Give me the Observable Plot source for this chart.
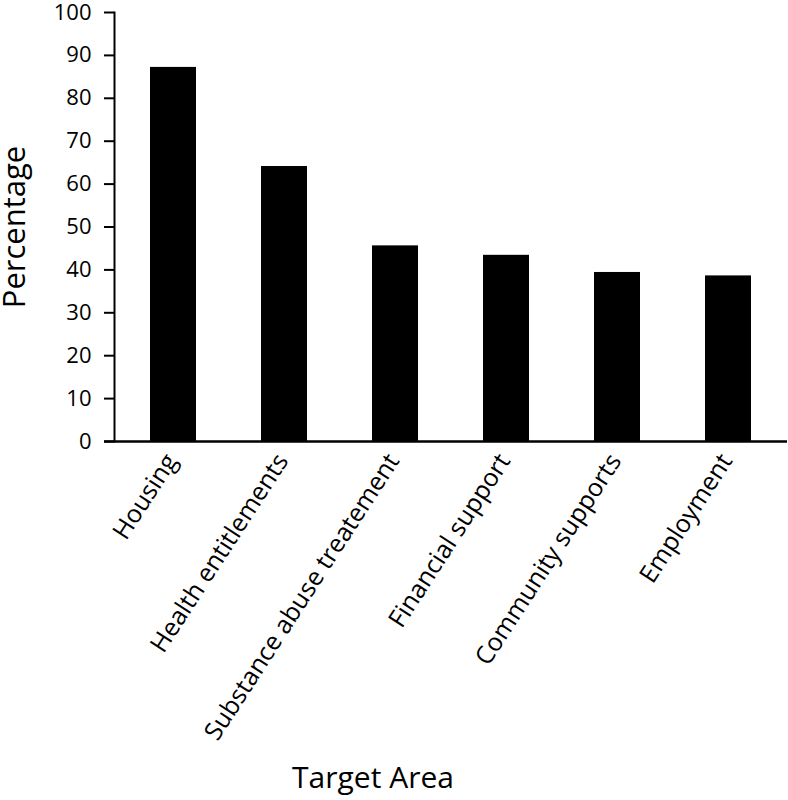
<!DOCTYPE html>
<html>
<head>
<meta charset="utf-8">
<script src="https://cdn.jsdelivr.net/npm/d3@7"></script>
<script src="https://cdn.jsdelivr.net/npm/@observablehq/plot@0.6"></script>
<style>
  html, body { margin: 0; padding: 0; background: white; }
</style>
</head>
<body>
<div id="chart"></div>
<script>
const categories = ["Housing", "Health entitlements", "Substance abuse treatement", "Financial support", "Community supports", "Employment"];
const values = [87.2, 64.1, 45.6, 43.4, 39.4, 38.6];
const yTicks = [0, 10, 20, 30, 40, 50, 60, 70, 80, 90, 100];
const yTitle = ["Percentage"];
const xTitle = ["Target Area"];

const data = categories.map((c, i) => ({cat: c, value: values[i]}));

const chart = Plot.plot({
  width: 788,
  height: 800,
  marginLeft: 114,
  marginRight: 1,
  marginTop: 12,
  marginBottom: 359,
  style: {fontFamily: "'Open Sans', sans-serif", fontSize: "22px", color: "black", background: "white"},
  x: {domain: categories, paddingInner: 0.59, paddingOuter: 0.3, label: null},
  y: {domain: [0, 100], ticks: yTicks, label: null},
  marks: [
    Plot.barY(data, {x: "cat", y: "value", fill: "black"}),
    Plot.axisY({ticks: yTicks, tickSize: 10, tickPadding: 13, strokeWidth: 2, fontSize: 22, label: null}),
    Plot.axisX({tickSize: 0, tickRotate: -57, tickPadding: 15, dx: -2, fontSize: 25, label: null}),
    Plot.ruleY([0], {strokeWidth: 2.5, insetLeft: -10}),
    Plot.frame({anchor: "left", strokeWidth: 2}),
    Plot.text(yTitle, {frameAnchor: "left", dx: -99, rotate: -90, fontSize: 31, textAnchor: "middle", lineAnchor: "middle"}),
    Plot.text(xTitle, {frameAnchor: "bottom", dx: -78, dy: 337, fontSize: 30, textAnchor: "middle", lineAnchor: "middle"})
  ]
});
document.getElementById("chart").appendChild(chart);
</script>
</body>
</html>
